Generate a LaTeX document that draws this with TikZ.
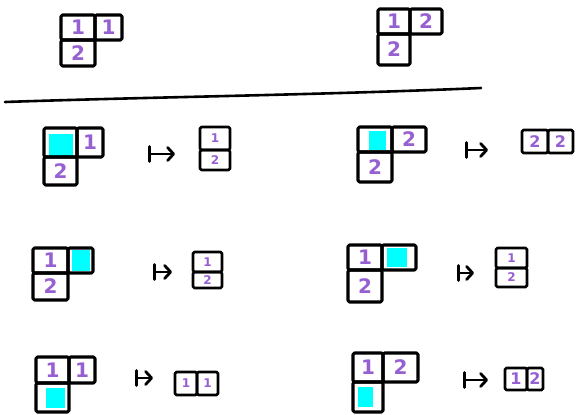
\documentclass[tikz,border=0pt]{standalone}
\usepackage{fontspec}
\setmainfont{DejaVu Sans}
\usetikzlibrary{arrows.meta}
\definecolor{penpurple}{RGB}{150,95,210}
\definecolor{pencyan}{RGB}{0,255,255}
\tikzset{
  cell/.style={draw=black, line width=3.1pt, rectangle, inner sep=0pt, outer sep=0pt,
    text=penpurple, font=\fontsize{20}{20}\selectfont\bfseries, line join=round, rounded corners=1.5pt},
  mini/.style={cell, line width=2.7pt, font=\fontsize{12}{12}\selectfont\bfseries},
  midsize/.style={cell, line width=2.7pt, font=\fontsize{16}{16}\selectfont\bfseries},
  hole/.style={fill=pencyan, draw=none, rectangle, inner sep=0pt, outer sep=0pt},
  mapsto/.style={line width=2.8pt, line cap=round,
    {Bar[width=15pt, round]}-{Straight Barb[length=6pt,width=13pt,round]}},
  rulestroke/.style={line width=2.6pt, line cap=round}
}
\newcommand\cellat[7][cell]{%
  \node[#1, minimum width={(#5-#3)*1pt}, minimum height={(#6-#4)*1pt}]
    (#2) at ({(#3+#5)/2},{(#4+#6)/2}) {#7};}
\newcommand\holeat[5]{%
  \node[hole, minimum width={(#4-#2)*1pt}, minimum height={(#5-#3)*1pt}]
    (#1) at ({(#2+#4)/2},{(#3+#5)/2}) {};}
\begin{document}
\begin{tikzpicture}[x=1pt, y=-1pt]
\useasboundingbox (0,0) rectangle (576,415);
\fill[white] (0,0) rectangle (576,415);

% top tableaux
\cellat{t1a}{61}{15}{95}{40}{1}
\cellat{t1b}{95}{15}{122}{40}{1}
\cellat{t1c}{61}{40}{95}{66}{2}

\cellat{t2a}{378}{9}{410}{34}{1}
\cellat{t2b}{410}{9}{442}{34}{2}
\cellat{t2c}{378}{34}{410}{65}{2}

% separating rule
\coordinate (hl1) at (5,102);
\coordinate (hl2) at (481,88);
\draw[rulestroke] (hl1) .. controls (150,97) and (320,95) .. (hl2);

% row 2 left
\holeat{h2l}{49}{134}{73}{156}
\cellat{r2la}{44}{128}{77}{157}{}
\cellat{r2lb}{77}{128}{103}{157}{1}
\cellat{r2lc}{44}{157}{77}{185}{2}
\coordinate (a2ls) at (148,154);
\coordinate (a2le) at (175,154);
\draw[mapsto] (a2ls) -- (a2le);
\cellat[mini]{s2la}{200}{127}{230}{150}{1}
\cellat[mini]{s2lb}{200}{150}{230}{170}{2}

% row 2 right
\holeat{h2r}{369}{131}{386}{150}
\cellat{r2ra}{358}{127}{392}{152}{}
\cellat{r2rb}{392}{127}{426}{152}{2}
\cellat{r2rc}{358}{152}{392}{182}{2}
\coordinate (a2rs) at (465,150);
\coordinate (a2re) at (488,150);
\draw[mapsto] (a2rs) -- (a2re);
\cellat[midsize]{s2ra}{522}{130}{548}{153}{2}
\cellat[midsize]{s2rb}{548}{130}{573}{153}{2}

% row 3 left
\holeat{h3l}{72}{250}{90}{271}
\cellat{r3la}{33}{248}{68}{273}{1}
\cellat{r3lb}{68}{248}{93}{273}{}
\cellat{r3lc}{33}{273}{68}{300}{2}
\coordinate (a3ls) at (153,272);
\coordinate (a3le) at (172,272);
\draw[mapsto] (a3ls) -- (a3le);
\cellat[mini]{s3la}{193}{252}{222}{272}{1}
\cellat[mini]{s3lb}{193}{272}{222}{288}{2}

% row 3 right
\holeat{h3r}{387}{248}{407}{267}
\cellat{r3ra}{348}{245}{382}{270}{1}
\cellat{r3rb}{382}{245}{416}{270}{}
\cellat{r3rc}{348}{270}{382}{302}{2}
\coordinate (a3rs) at (457,273);
\coordinate (a3re) at (474,273);
\draw[mapsto] (a3rs) -- (a3re);
\cellat[mini]{s3ra}{496}{248}{527}{268}{1}
\cellat[mini]{s3rb}{496}{268}{527}{287}{2}

% row 4 left
\holeat{h4l}{46}{388}{65}{408}
\cellat{r4la}{36}{357}{69}{383}{1}
\cellat{r4lb}{69}{357}{95}{383}{1}
\cellat{r4lc}{36}{383}{69}{412}{}
\coordinate (a4ls) at (135,378);
\coordinate (a4le) at (153,378);
\draw[mapsto] (a4ls) -- (a4le);
\cellat[mini]{s4la}{175}{372}{197}{395}{1}
\cellat[mini]{s4lb}{197}{372}{218}{395}{1}

% row 4 right
\holeat{h4r}{358}{387}{373}{407}
\cellat{r4ra}{353}{353}{383}{382}{1}
\cellat{r4rb}{383}{353}{418}{382}{2}
\cellat{r4rc}{353}{382}{383}{412}{}
\coordinate (a4rs) at (463,380);
\coordinate (a4re) at (488,380);
\draw[mapsto] (a4rs) -- (a4re);
\cellat[midsize]{s4ra}{505}{368}{527}{390}{1}
\cellat[midsize]{s4rb}{527}{368}{543}{390}{2}
\end{tikzpicture}
\end{document}
